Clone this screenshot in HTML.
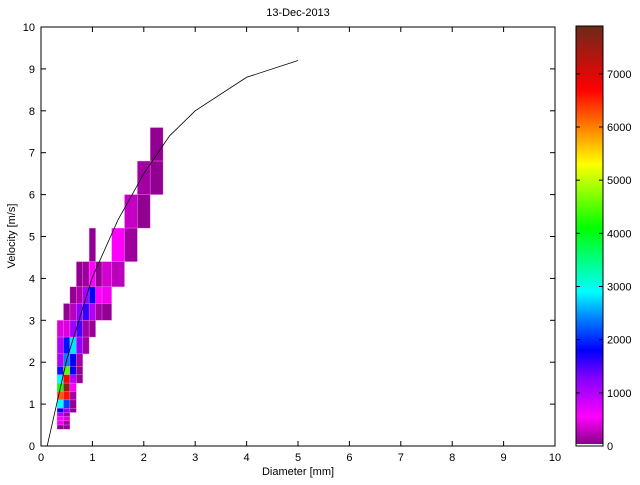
<!DOCTYPE html>
<html><head><meta charset="utf-8"><style>
body{margin:0;background:#fff;width:640px;height:480px;overflow:hidden}
svg text{font-family:"Liberation Sans",sans-serif;font-size:11px;fill:#000}
</style></head><body>
<svg id="c" width="640" height="480"></svg>
<script>
const dEdges=[0.3125,0.4375,0.5625,0.6875,0.8125,0.9375,1.0625,1.1875,1.375,1.625,1.875,2.125,2.375];
const vEdges=[0.4,0.5,0.6,0.7,0.8,0.9,1.1,1.3,1.5,1.7,1.9,2.2,2.6,3.0,3.4,3.8,4.4,5.2,6.0,6.8,7.6];
// cells: [colIndex,rowIndex,count]
const cells=[[11,19,80],[10,18,150],[11,18,80],[9,17,300],[10,17,80],[5,16,80],[8,16,550],[9,16,120],
[3,15,80],[4,15,120],[5,15,550],[6,15,80],[7,15,350],[8,15,250],
[2,14,80],[3,14,200],[4,14,1100],[5,14,1800],[6,14,550],[7,14,500],
[1,13,80],[2,13,250],[3,13,1200],[4,13,1600],[5,13,1000],[6,13,150],[7,13,80],
[0,12,400],[1,12,400],[2,12,1100],[3,12,1500],[4,12,150],[5,12,120],
[0,11,1000],[1,11,1900],[2,11,2800],[3,11,1200],[4,11,150],
[0,10,1000],[1,10,2400],[2,10,1800],[3,10,150],
[0,9,1900],[1,9,4500],[2,9,1800],[3,9,80],
[0,8,2900],[1,8,6800],[2,8,1000],[3,8,80],
[0,7,4200],[1,7,7700],[2,7,550],
[0,6,6200],[1,6,6600],[2,6,150],
[0,5,2900],[1,5,2100],[2,5,80],
[0,4,1800],[1,4,1200],[2,4,80],
[0,3,1000],[1,3,150],[0,2,550],[1,2,400],[0,1,500],[1,1,150],[0,0,80],[1,0,80]];
const curveD=[0.12,0.5,1,1.5,2,2.5,3,4,5];
const curveV=[0,2.06,4.03,5.4,6.5,7.4,8.0,8.8,9.2];
const xTicks=[0,1,2,3,4,5,6,7,8,9,10];
const yTicks=[0,1,2,3,4,5,6,7,8,9,10];
const cbTicks=[0,1000,2000,3000,4000,5000,6000,7000];
const cbMax=7900;
const stops=[[0,[128,0,128]],[550,[255,0,255]],[1300,[127,0,255]],[1800,[0,0,255]],[2400,[0,128,255]],[2900,[0,255,255]],[3500,[0,255,128]],[4100,[0,255,0]],[5300,[255,255,0]],[6000,[255,128,0]],[6700,[255,0,0]],[7900,[107,42,26]]];
const X=d=>41+d*51.4, Y=v=>446-v*41.9;
const CBY=v=>446-v/cbMax*420;
function col(v){for(let i=1;i<stops.length;i++){if(v<=stops[i][0]){const a=stops[i-1],b=stops[i],t=(v-a[0])/(b[0]-a[0]);return 'rgb('+a[1].map((c,k)=>Math.round(c+(b[1][k]-c)*t)).join(',')+')';}}return 'rgb(107,42,26)';}
const s=document.getElementById('c');const NS='http://www.w3.org/2000/svg';
function mk(t,a,p){const e=document.createElementNS(NS,t);for(const k in a)e.setAttribute(k,a[k]);(p||s).appendChild(e);return e;}
const g=mk('g',{});


cells.forEach(c=>{const x0=X(dEdges[c[0]]),x1=X(dEdges[c[0]+1]),y1=Y(vEdges[c[1]]),y0=Y(vEdges[c[1]+1]);
const r=mk('rect',{x:x0,y:y0,width:x1-x0,height:y1-y0,fill:col(c[2]),stroke:'rgba(255,150,255,0.45)','stroke-width':0.6},g);

});
const pl=mk('polyline',{points:curveD.map((d,i)=>X(d)+','+Y(curveV[i])).join(' '),fill:'none',stroke:'#000','stroke-width':0.8});


const ax=mk('rect',{x:41,y:27,width:514,height:419,fill:'none',stroke:'#000','stroke-width':1});


xTicks.forEach(t=>{mk('line',{x1:X(t),x2:X(t),y1:446,y2:441,stroke:'#000'});mk('line',{x1:X(t),x2:X(t),y1:27,y2:32,stroke:'#000'});
const e=mk('text',{x:X(t),y:461,'text-anchor':'middle'});e.textContent=t;

});
yTicks.forEach(t=>{mk('line',{x1:41,x2:46,y1:Y(t),y2:Y(t),stroke:'#000'});mk('line',{x1:555,x2:550,y1:Y(t),y2:Y(t),stroke:'#000'});
const e=mk('text',{x:35,y:Y(t)+4,'text-anchor':'end'});e.textContent=t;

});
let t=mk('text',{x:298,y:16,'text-anchor':'middle'});t.textContent='13-Dec-2013';


t=mk('text',{x:298,y:475,'text-anchor':'middle'});t.textContent='Diameter [mm]';


t=mk('text',{x:15,y:236,'text-anchor':'middle',transform:'rotate(-90 15 236)'});t.textContent='Velocity [m/s]';


const cb=mk('g',{});


for(let y=26;y<444;y++){const v=(446-y-0.5)/420*cbMax;mk('rect',{x:576,y:y,width:27,height:1.05,fill:col(v)},cb);}
mk('rect',{x:576,y:26,width:27,height:420,fill:'none',stroke:'#000'},cb);
cbTicks.forEach(v=>{mk('line',{x1:576,x2:580,y1:CBY(v),y2:CBY(v),stroke:'#000'},cb);mk('line',{x1:603,x2:599,y1:CBY(v),y2:CBY(v),stroke:'#000'},cb);
const e=mk('text',{x:607,y:CBY(v)+4},cb);e.textContent=v;

});
</script></body></html>
